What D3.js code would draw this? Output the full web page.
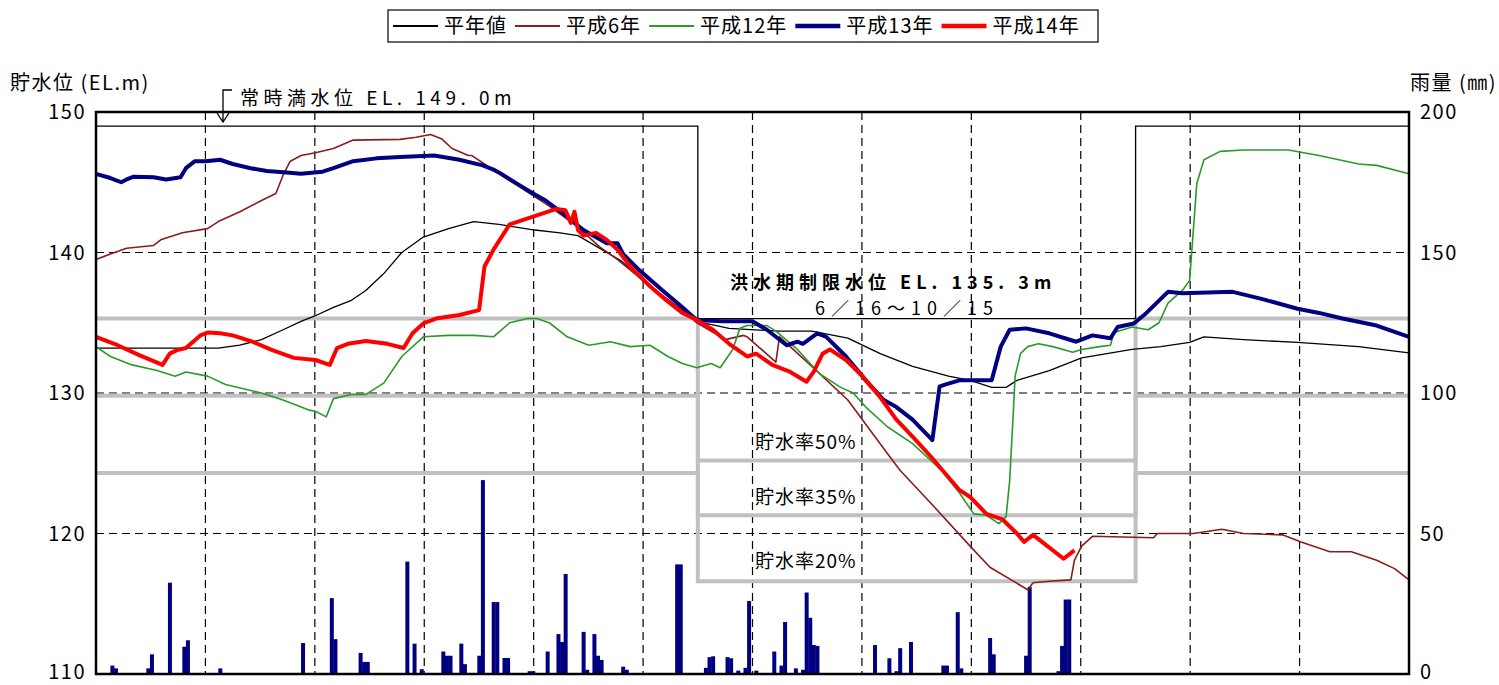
<!DOCTYPE html>
<html>
<head>
<meta charset="utf-8">
<script src="https://cdn.jsdelivr.net/npm/d3@7"></script>
<style>
  body { margin: 0; background: #fff; }
  text { font-family: "Noto Sans CJK JP", "Noto Sans", sans-serif; }
</style>
</head>
<body>
<div id="chart"></div>
<script>
//x is a day scale: 12 equal month slots over 365 days
//series are [day, EL.m] pairs
var avgYear = [[0,133.2],[34,133.2],[40,133.4],[46,133.8],[52,134.5],[57,135.1],[61,135.5],[66,136.1],[71,136.6],[75,137.3],[80,138.5],[85,140.0],[91,141.1],[98,141.7],[105,142.2],[112,142.0],[122,141.6],[129,141.4],[134,141.2],[146,139.4],[157,137.0],[167,135.1],[176,134.6],[190,134.4],[199,134.4],[209,133.9],[218,132.8],[227,131.9],[237,131.2],[243,130.9],[249,130.4],[253,130.4],[256,130.9],[265,131.6],[274,132.5],[288,133.1],[296,133.3],[304,133.6],[308,134.0],[319,133.8],[334,133.6],[351,133.3],[365,132.85]];

var h6 = [[0,139.5],[4,139.9],[8.5,140.3],[16,140.5],[18,140.9],[24,141.4],[31,141.7],[34,142.2],[40,142.9],[46,143.7],[50,144.2],[52,145.5],[54,146.5],[57,146.9],[61,147.1],[66,147.4],[71.5,148.0],[84.5,148.05],[89,148.2],[93,148.4],[96,148.1],[99,147.4],[103.5,146.9],[104.5,146.9],[108,146.3],[112,145.6],[117,144.8],[126,143.3],[134,141.8],[140,140.4],[145,139.5],[154,137.6],[163,135.9],[167,135.0],[175,133.8],[180,134.1],[181,134.0],[189,132.2],[190,134.0],[199,131.9],[209,129.5],[220,125.7],[223.5,124.5],[233,121.9],[243,119.1],[248.5,117.6],[259,116.0],[260.5,116.5],[265,116.6],[271,116.7],[272,118.1],[274,119.1],[277,119.8],[294,119.7],[295,120.0],[305,120.0],[313,120.3],[319,120.0],[330,119.9],[335,119.4],[343,118.7],[349,118.7],[356,118.1],[361,117.5],[365,116.7]];

var h12 = [[0,133.3],[4,132.6],[10,132.0],[17,131.6],[22,131.2],[25,131.5],[31,131.2],[36,130.6],[46,130.0],[52,129.5],[59,128.8],[61,128.7],[64,128.3],[66,129.6],[71,129.9],[75,129.9],[80,130.7],[85,132.6],[91,134.0],[98,134.1],[105,134.1],[110.5,134.0],[115,135.0],[120,135.3],[122.5,135.3],[126,135.0],[131,134.0],[137,133.4],[143,133.65],[148.5,133.3],[154,133.4],[159,132.6],[163,132.1],[167,131.8],[171,132.1],[173.5,131.8],[177,133.1],[179,134.6],[181,134.8],[186.5,134.8],[189,134.4],[195,133.1],[201,131.4],[207,130.4],[210.5,130.0],[214,129.0],[220,127.6],[227,126.4],[235,124.5],[240,122.9],[244,121.4],[247.5,121.3],[251,120.7],[253,121.2],[254,123.8],[255,128.6],[255.5,131.2],[257,132.8],[259,133.3],[262,133.5],[266,133.3],[271.5,132.9],[274,133.1],[279,133.3],[282,133.4],[283,134.3],[288,134.7],[292.5,134.5],[295.5,135.0],[298,136.4],[302,137.3],[304,138.0],[305,141.4],[306,144.9],[308,146.6],[312.5,147.2],[319,147.3],[331.5,147.3],[340,146.9],[351,146.3],[356,146.2],[365,145.6]];

var h13 = [[0,145.6],[4,145.3],[7,145.0],[8.5,145.2],[10.5,145.4],[16,145.35],[19.5,145.2],[23.5,145.35],[25,146.0],[27.5,146.5],[30.5,146.5],[34.5,146.6],[38,146.3],[43,146.0],[47.5,145.8],[53,145.7],[57,145.6],[63,145.75],[66,146.0],[71.5,146.5],[78,146.7],[84.5,146.8],[94,146.9],[101,146.6],[107.5,146.2],[110.5,145.9],[112,145.7],[117,144.9],[121.5,144.2],[125,143.7],[131,142.55],[135.5,141.6],[142,140.65],[145,140.65],[146.5,139.9],[151,138.75],[157.5,137.3],[163,136.1],[167,135.2],[174,135.1],[182.5,135.1],[186.5,134.5],[192,133.4],[195,133.65],[196.5,133.5],[200.5,134.25],[203,134.0],[208.5,132.6],[214,130.9],[219,129.5],[222.5,129.0],[227,128.1],[232.5,126.65],[234.5,130.45],[236,130.6],[240,130.9],[249,130.9],[251.5,133.3],[254,134.5],[258.5,134.6],[265,134.25],[272.5,133.65],[277,134.1],[282,133.9],[284,134.7],[288.5,134.95],[292,135.7],[296,136.7],[298,137.2],[302,137.1],[316,137.2],[324,136.7],[334,136.0],[340,135.7],[346.5,135.3],[356,134.8],[365,134.0]];

var h14 = [[0,134.0],[6,133.4],[12,132.7],[18.5,132.0],[20.5,132.8],[22.5,133.05],[25,133.2],[29,134.1],[31,134.3],[34.5,134.25],[38,134.1],[43.5,133.65],[49,133.05],[55,132.5],[61,132.35],[65,132.0],[67,133.2],[70,133.5],[75,133.7],[81,133.5],[85.5,133.2],[88,134.25],[91,134.95],[94.5,135.3],[101,135.55],[106.5,135.9],[108,139.0],[110.5,140.2],[115,142.0],[121.5,142.55],[128,143.1],[130.5,143.0],[132,142.1],[133,142.9],[134,141.6],[135.5,141.2],[139,141.4],[142,140.9],[145,140.2],[148.5,139.0],[154,137.6],[158.5,136.6],[163,135.7],[167,135.2],[171.5,134.5],[176,133.5],[181,132.6],[183.5,132.8],[188,132.0],[193,131.5],[197.5,130.8],[199.5,131.5],[202,132.8],[204,133.1],[208.5,132.35],[213,131.2],[218,129.7],[222.5,128.1],[227,126.9],[232,125.5],[240,123.1],[243,122.6],[247.5,121.4],[252,121.0],[256,120.0],[258,119.4],[260.5,119.9],[263.5,119.3],[269,118.2],[271,118.6],[272,118.8]];

//daily rain [day, mm]
var rain = [[4,3],[5,2],[14,2],[15,7],[20,32.5],[24,9.7],[25,12],[34,2],[57,11],[65,27],[66,12.4],[73,7.5],[74,4.3],[75,4.3],[86,40],[88,10.8],[90,1.7],[96,8],[97,6.5],[98,6.5],[101,10.8],[102,3.5],[106,6.5],[107,69],[110,25.6],[111,25.6],[113,5.7],[114,5.7],[120,1],[121,1],[125,8],[128,14.2],[129,11.4],[130,35.6],[135,15],[136,1.5],[138,14.2],[139,6.5],[140,5],[146,2.6],[147,1.5],[161,39],[162,39],[169,2.2],[170,6],[171,6.3],[175,6],[176,5.6],[178,1.2],[180,2.2],[181,26],[183,1.2],[188,8],[190,3],[191,18.5],[194,2],[196,1.5],[197,29],[198,20],[199,10.3],[200,10],[216,10.3],[220,5.6],[222,1],[223,9.2],[226,11.4],[235,3],[236,3],[239,22],[240,2],[248,12.8],[249,7],[258,6.5],[259,31],[267,1],[268,10],[269,26.5],[270,26.5]];

var seriesNames = ["平年値", "平成6年", "平成12年", "平成13年", "平成14年"];
var seriesData = [avgYear, h6, h12, h13, h14];
var seriesColors = ["#000000", "#8b1c1c", "#2a9a2a", "#000080", "#ff0000"];
var seriesWidths = [1.3, 1.6, 1.6, 4, 4];

//flood season 6/16 - 10/15 in day units
var floodPeriod = [167.3, 289];
var fullLevel = 149.0, floodLevel = 135.3;
var storageLabels = ["貯水率50%", "貯水率35%", "貯水率20%"];
var storageNormal = [135.3, 129.8, 124.3];
var storageFlood = [125.2, 121.3, 116.6];

var leftTicks = [110, 120, 130, 140, 150];
var rightTicks = [0, 50, 100, 150, 200];

var width = 1499, height = 685;
var plotLeft = 96, plotRight = 1409, plotTop = 112, plotBottom = 674;

var svg = d3.select("#chart").append("svg")
  .attr("width", width).attr("height", height);

var x = d3.scaleLinear().domain([0, 365]).range([plotLeft, plotRight]);
var y = d3.scaleLinear().domain([110, 150]).range([plotBottom, plotTop]);
var yR = d3.scaleLinear().domain([0, 200]).range([plotBottom, plotTop]);

var line = d3.line().x(d => x(d[0])).y(d => y(d[1]));

//dashed grid: 12 equal month slots
var monthGrid = d3.range(1, 12).map(m => m * 365 / 12);
svg.append("g").selectAll("line").data(monthGrid).enter().append("line")
  .attr("x1", d => x(d)).attr("x2", d => x(d))
  .attr("y1", plotTop).attr("y2", plotBottom)
  .attr("stroke", "#000").attr("stroke-width", 1.2).attr("stroke-dasharray", "8,5");
svg.append("g").selectAll("line").data([120, 130, 140]).enter().append("line")
  .attr("x1", plotLeft).attr("x2", plotRight)
  .attr("y1", d => y(d)).attr("y2", d => y(d))
  .attr("stroke", "#000").attr("stroke-width", 1.2).attr("stroke-dasharray", "8,5");

//storage rate step lines (gray)
function stepPoints(normal, flood) {
  return [[0, normal], [floodPeriod[0], normal], [floodPeriod[0], flood],
    [floodPeriod[1], flood], [floodPeriod[1], normal], [365, normal]];
}
storageNormal.forEach(function(n, i) {
  svg.append("path")
    .attr("d", line(stepPoints(n, storageFlood[i])))
    .attr("fill", "none").attr("stroke", "#c0c0c0").attr("stroke-width", 4);
});

//rain bars
var barW = x(1) - x(0) + 0.4;
svg.append("g").selectAll("rect").data(rain).enter().append("rect")
  .attr("x", d => x(d[0]))
  .attr("y", d => yR(d[1]))
  .attr("width", barW)
  .attr("height", d => plotBottom - yR(d[1]))
  .attr("fill", "#000080");

//full / flood-limit level
svg.append("path")
  .attr("d", line(stepPoints(fullLevel, floodLevel)))
  .attr("fill", "none").attr("stroke", "#000").attr("stroke-width", 1.3);

//water level series
seriesData.forEach(function(s, i) {
  svg.append("path")
    .attr("d", line(s))
    .attr("fill", "none")
    .attr("stroke", seriesColors[i])
    .attr("stroke-width", seriesWidths[i])
    .attr("stroke-linejoin", "round");
});

//plot frame
svg.append("rect")
  .attr("x", plotLeft).attr("y", plotTop)
  .attr("width", plotRight - plotLeft).attr("height", plotBottom - plotTop)
  .attr("fill", "none").attr("stroke", "#000").attr("stroke-width", 2.5);

//tick labels (bottom one nudged up to stay inside the page)
svg.append("g").selectAll("text").data(leftTicks).enter().append("text")
  .attr("x", 86).attr("y", d => Math.min(y(d) + 7, 679))
  .attr("text-anchor", "end").attr("font-size", 20).attr("letter-spacing", 1.5).text(d => d);
svg.append("g").selectAll("text").data(rightTicks).enter().append("text")
  .attr("x", 1420).attr("y", d => Math.min(yR(d) + 7, 679))
  .attr("font-size", 20).attr("letter-spacing", 1.5).text(d => d);

//axis titles
svg.append("text").attr("x", 10).attr("y", 90).attr("font-size", 20)
  .attr("letter-spacing", 1.5).text("貯水位 (EL.m)");
svg.append("text").attr("x", 1410).attr("y", 90).attr("font-size", 20)
  .attr("letter-spacing", 1.5).text("雨量 (㎜)");

//annotations
svg.append("path")
  .attr("d", "M232,90 H223 V122 M217,113 L223,122 L229,113")
  .attr("fill", "none").attr("stroke", "#000").attr("stroke-width", 1.3);
svg.append("text").attr("x", 240).attr("y", 105).attr("font-size", 19)
  .attr("letter-spacing", 4.5).text("常時満水位 EL. 149. 0m");
svg.append("text").attr("x", 730).attr("y", 289).attr("font-size", 18)
  .attr("font-weight", "bold").attr("letter-spacing", 5).text("洪水期制限水位 EL. 135. 3m");
svg.append("text").attr("x", 815).attr("y", 315).attr("font-size", 18)
  .attr("letter-spacing", 6).text("6／16～10／15");

var storageLabelY = [449, 504, 568];
storageLabels.forEach(function(t, i) {
  svg.append("text").attr("x", 755).attr("y", storageLabelY[i])
    .attr("font-size", 19).attr("letter-spacing", 1).text(t);
});

//legend
var legend = svg.append("g");
legend.append("rect")
  .attr("x", 388).attr("y", 10).attr("width", 710).attr("height", 32)
  .attr("fill", "#fff").attr("stroke", "#000").attr("stroke-width", 1.2);
var legendWidths = [2, 2, 2, 4.5, 4.5];
var lx = 393;
seriesNames.forEach(function(name, i) {
  legend.append("line")
    .attr("x1", lx).attr("x2", lx + 45).attr("y1", 26).attr("y2", 26)
    .attr("stroke", seriesColors[i]).attr("stroke-width", legendWidths[i]);
  var t = legend.append("text")
    .attr("x", lx + 51).attr("y", 33).attr("font-size", 20)
    .attr("letter-spacing", 1).text(name);
  lx = lx + 51 + t.node().getComputedTextLength() + 8;
});
</script>
</body>
</html>
